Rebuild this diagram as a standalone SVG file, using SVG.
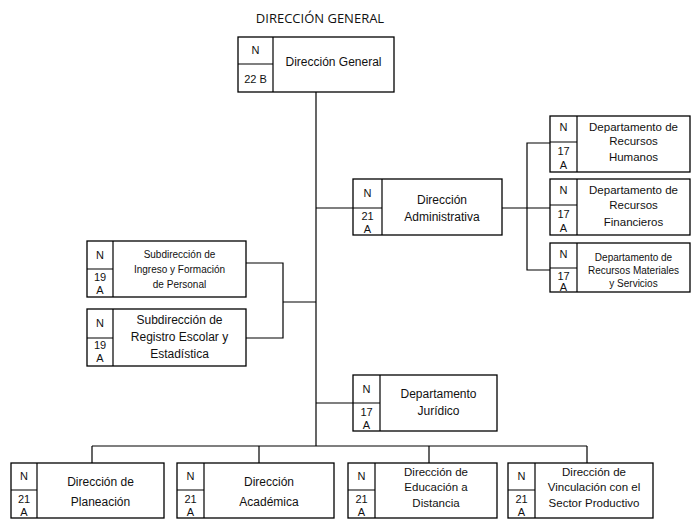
<svg xmlns="http://www.w3.org/2000/svg" width="694" height="520" viewBox="0 0 694 520">
<style>
.box{fill:#fff;stroke:#000;stroke-width:1.3}
.ln{fill:none;stroke:#000;stroke-width:1.2}
.t{font-family:"Liberation Sans",Arial,sans-serif;font-size:12px;fill:#111;text-anchor:middle}
.s{font-size:10px}
.m{font-size:11.5px}
.c{font-family:"Liberation Sans",Arial,sans-serif;font-size:11px;fill:#111;text-anchor:middle}
.title{font-family:"Open Sans","Liberation Sans",sans-serif;font-size:13px;fill:#111;text-anchor:middle}
</style>
<rect width="694" height="520" fill="#fff"/>
<text class="title" x="320" y="23">DIRECCIÓN GENERAL</text>

<g id="connectors">
<path class="ln" d="M316 92V446"/>
<path class="ln" d="M92 446H587M92 446V463M259 446V463M429 446V463M587 446V463"/>
<path class="ln" d="M316 208H353M502 208H550"/>
<path class="ln" d="M550 143H527V270H550"/>
<path class="ln" d="M246 263H283V338H246M283 302H316"/>
<path class="ln" d="M316 403H353"/>
</g>

<g id="dg">
<rect class="box" x="238" y="37" width="156" height="55"/>
<path class="ln" d="M273 37V92M238 64H273"/>
<text class="c" x="255.5" y="54">N</text>
<text class="c" x="255.5" y="83">22 B</text>
<text class="t" x="333.5" y="66">Dirección General</text>
</g>

<g id="rh">
<rect class="box" x="550" y="116" width="140" height="56"/>
<path class="ln" d="M577 116V172M550 142H577"/>
<text class="c" x="563.5" y="131">N</text>
<text class="c" x="563.5" y="155">17</text>
<text class="c" x="563.5" y="169">A</text>
<text class="t" x="633.5" y="131" style="font-size:11.5px">Departamento de</text>
<text class="t" x="633.5" y="145" style="font-size:11.5px">Recursos</text>
<text class="t" x="633.5" y="161" style="font-size:11.5px">Humanos</text>
</g>

<g id="rf">
<rect class="box" x="550" y="179" width="140" height="56"/>
<path class="ln" d="M577 179V235M550 205H577"/>
<text class="c" x="563.5" y="194">N</text>
<text class="c" x="563.5" y="218">17</text>
<text class="c" x="563.5" y="232">A</text>
<text class="t" x="633.5" y="194" style="font-size:11.5px">Departamento de</text>
<text class="t" x="633.5" y="209" style="font-size:11.5px">Recursos</text>
<text class="t" x="633.5" y="226" style="font-size:11.5px">Financieros</text>
</g>

<g id="rm">
<rect class="box" x="550" y="243" width="140" height="49"/>
<path class="ln" d="M577 243V292M550 268H577"/>
<text class="c" x="563.5" y="258">N</text>
<text class="c" x="563.5" y="280">17</text>
<text class="c" x="563.5" y="291">A</text>
<text class="t" x="633.5" y="261" style="font-size:10px">Departamento de</text>
<text class="t" x="633.5" y="274" style="font-size:10px">Recursos Materiales</text>
<text class="t" x="633.5" y="287" style="font-size:10px">y Servicios</text>
</g>

<g id="da">
<rect class="box" x="353" y="179" width="149" height="56"/>
<path class="ln" d="M382 179V235M353 208H382"/>
<text class="c" x="367.5" y="197">N</text>
<text class="c" x="367.5" y="220">21</text>
<text class="c" x="367.5" y="233">A</text>
<text class="t" x="442" y="204">Dirección</text>
<text class="t" x="442" y="221">Administrativa</text>
</g>

<g id="sif">
<rect class="box" x="87" y="241" width="159" height="56"/>
<path class="ln" d="M113 241V297M87 269H113"/>
<text class="c" x="100" y="259">N</text>
<text class="c" x="100" y="281">19</text>
<text class="c" x="100" y="294">A</text>
<text class="t s" x="179.5" y="258">Subdirección de</text>
<text class="t s" x="179.5" y="273">Ingreso y Formación</text>
<text class="t s" x="179.5" y="288">de Personal</text>
</g>

<g id="sre">
<rect class="box" x="87" y="309" width="159" height="57"/>
<path class="ln" d="M113 309V366M87 338H113"/>
<text class="c" x="100" y="327">N</text>
<text class="c" x="100" y="349">19</text>
<text class="c" x="100" y="362">A</text>
<text class="t" x="179.5" y="324">Subdirección de</text>
<text class="t" x="179.5" y="341">Registro Escolar y</text>
<text class="t" x="179.5" y="358">Estadística</text>
</g>

<g id="dj">
<rect class="box" x="353" y="375" width="144" height="56"/>
<path class="ln" d="M380 375V431M353 403H380"/>
<text class="c" x="366.5" y="393">N</text>
<text class="c" x="366.5" y="416">17</text>
<text class="c" x="366.5" y="429">A</text>
<text class="t" x="438.5" y="398">Departamento</text>
<text class="t" x="438.5" y="415">Jurídico</text>
</g>

<g id="dp">
<rect class="box" x="11" y="463" width="153" height="55"/>
<path class="ln" d="M37 463V518M11 490H37"/>
<text class="c" x="24" y="480">N</text>
<text class="c" x="24" y="503">21</text>
<text class="c" x="24" y="516">A</text>
<text class="t" x="100.5" y="486">Dirección de</text>
<text class="t" x="100.5" y="506">Planeación</text>
</g>

<g id="dac">
<rect class="box" x="177" y="463" width="157" height="55"/>
<path class="ln" d="M204 463V518M177 490H204"/>
<text class="c" x="190.5" y="480">N</text>
<text class="c" x="190.5" y="503">21</text>
<text class="c" x="190.5" y="516">A</text>
<text class="t" x="269" y="486">Dirección</text>
<text class="t" x="269" y="506">Académica</text>
</g>

<g id="ded">
<rect class="box" x="348" y="463" width="149" height="55"/>
<path class="ln" d="M375 463V518M348 490H375"/>
<text class="c" x="361.5" y="480">N</text>
<text class="c" x="361.5" y="503">21</text>
<text class="c" x="361.5" y="516">A</text>
<text class="t m" x="436" y="476">Dirección de</text>
<text class="t m" x="436" y="491">Educación a</text>
<text class="t m" x="436" y="507">Distancia</text>
</g>

<g id="dv">
<rect class="box" x="508" y="463" width="145" height="55"/>
<path class="ln" d="M535 463V518M508 490H535"/>
<text class="c" x="521.5" y="480">N</text>
<text class="c" x="521.5" y="503">21</text>
<text class="c" x="521.5" y="516">A</text>
<text class="t m" x="594" y="476">Dirección de</text>
<text class="t m" x="594" y="491">Vinculación con el</text>
<text class="t m" x="594" y="507">Sector Productivo</text>
</g>
</svg>
